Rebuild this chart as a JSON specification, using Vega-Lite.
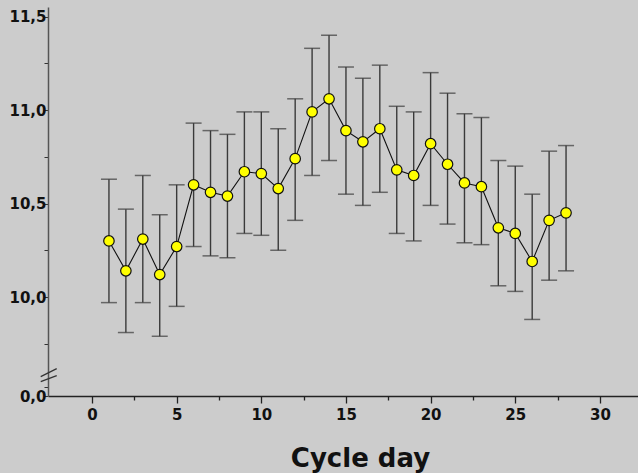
{
  "$schema": "https://vega.github.io/schema/vega-lite/v6.json",
  "width": 590,
  "height": 389,
  "autosize": {"type": "none"},
  "padding": {"left": 48, "top": 7, "right": 0, "bottom": 77},
  "background": "#cccccc",
  "config": {
    "view": {"stroke": null},
    "font": "DejaVu Sans",
    "axis": {"labelFont": "DejaVu Sans", "labelFontWeight": "bold", "labelFontSize": 15, "labelColor": "#111111", "grid": false, "titleFont": "DejaVu Sans"}
  },
  "datasets": {
    "cycle": [
      {"day": 1, "mean": 10.30, "lo": 9.97, "hi": 10.63},
      {"day": 2, "mean": 10.14, "lo": 9.81, "hi": 10.47},
      {"day": 3, "mean": 10.31, "lo": 9.97, "hi": 10.65},
      {"day": 4, "mean": 10.12, "lo": 9.79, "hi": 10.44},
      {"day": 5, "mean": 10.27, "lo": 9.95, "hi": 10.60},
      {"day": 6, "mean": 10.60, "lo": 10.27, "hi": 10.93},
      {"day": 7, "mean": 10.56, "lo": 10.22, "hi": 10.89},
      {"day": 8, "mean": 10.54, "lo": 10.21, "hi": 10.87},
      {"day": 9, "mean": 10.67, "lo": 10.34, "hi": 10.99},
      {"day": 10, "mean": 10.66, "lo": 10.33, "hi": 10.99},
      {"day": 11, "mean": 10.58, "lo": 10.25, "hi": 10.90},
      {"day": 12, "mean": 10.74, "lo": 10.41, "hi": 11.06},
      {"day": 13, "mean": 10.99, "lo": 10.65, "hi": 11.33},
      {"day": 14, "mean": 11.06, "lo": 10.73, "hi": 11.40},
      {"day": 15, "mean": 10.89, "lo": 10.55, "hi": 11.23},
      {"day": 16, "mean": 10.83, "lo": 10.49, "hi": 11.17},
      {"day": 17, "mean": 10.90, "lo": 10.56, "hi": 11.24},
      {"day": 18, "mean": 10.68, "lo": 10.34, "hi": 11.02},
      {"day": 19, "mean": 10.65, "lo": 10.30, "hi": 10.99},
      {"day": 20, "mean": 10.82, "lo": 10.49, "hi": 11.20},
      {"day": 21, "mean": 10.71, "lo": 10.39, "hi": 11.09},
      {"day": 22, "mean": 10.61, "lo": 10.29, "hi": 10.98},
      {"day": 23, "mean": 10.59, "lo": 10.28, "hi": 10.96},
      {"day": 24, "mean": 10.37, "lo": 10.06, "hi": 10.73},
      {"day": 25, "mean": 10.34, "lo": 10.03, "hi": 10.70},
      {"day": 26, "mean": 10.19, "lo": 9.88, "hi": 10.55},
      {"day": 27, "mean": 10.41, "lo": 10.09, "hi": 10.78},
      {"day": 28, "mean": 10.45, "lo": 10.14, "hi": 10.81}
    ],
    "axisBreak": [
      {"bx": -3.03, "by": 9.574, "bx2": -2.085, "by2": 9.617},
      {"bx": -3.03, "by": 9.547, "bx2": -2.085, "by2": 9.579}
    ]
  },
  "encoding": {
    "x": {
      "field": "day",
      "type": "quantitative",
      "scale": {"domain": [-2.6, 32.25], "nice": false, "zero": false},
      "axis": {
        "title": "Cycle day",
        "titleFontSize": 26,
        "titleFontWeight": "bold",
        "titleColor": "#111111",
        "titleX": 312,
        "titleY": 70,
        "titleAlign": "center",
        "titleBaseline": "alphabetic",
        "values": [2.5, 5, 7.5, 10, 12.5, 15, 17.5, 20, 22.5, 25, 27.5, 30, 0],
        "labelExpr": "datum.value % 5 === 0 ? datum.label : ''",
        "tickSize": {"condition": {"test": "datum.value % 5 === 0", "value": 7}, "value": 4},
        "tickColor": "#222222",
        "tickWidth": 1.3,
        "domainColor": "#222222",
        "domainWidth": 1.5,
        "labelPadding": 4,
        "labelFlush": false,
        "labelOverlap": false
      }
    }
  },
  "layer": [
    {
      "data": {"name": "cycle"},
      "mark": {"type": "rule", "color": "#3a3a3a", "strokeWidth": 1.4},
      "encoding": {
        "y": {
          "field": "lo",
          "type": "quantitative",
          "scale": {"domain": [9.4706, 11.551], "nice": false, "zero": false},
          "axis": {
            "title": null,
            "values": [9.4706, 9.52, 9.75, 10, 10.25, 10.5, 10.75, 11, 11.25, 11.5],
            "labelExpr": "datum.value < 9.5 ? '0,0' : ((datum.value >= 10 && abs(datum.value * 2 - round(datum.value * 2)) < 0.001) ? replace(format(datum.value, '.1f'), '.', ',') : '')",
            "tickSize": 4,
            "tickColor": "#333333",
            "domainColor": "#555555",
            "domainWidth": 1.5,
            "labelPadding": -2,
            "labelOverlap": false,
            "labelFlush": false
          }
        },
        "y2": {"field": "hi"}
      }
    },
    {
      "data": {"name": "cycle"},
      "mark": {"type": "tick", "orient": "horizontal", "size": 16, "thickness": 1.5, "color": "#3a3a3a"},
      "encoding": {"y": {"field": "hi", "type": "quantitative", "title": null}}
    },
    {
      "data": {"name": "cycle"},
      "mark": {"type": "tick", "orient": "horizontal", "size": 16, "thickness": 1.5, "color": "#3a3a3a"},
      "encoding": {"y": {"field": "lo", "type": "quantitative", "title": null}}
    },
    {
      "data": {"name": "cycle"},
      "mark": {"type": "line", "color": "#111111", "strokeWidth": 1.1},
      "encoding": {"y": {"field": "mean", "type": "quantitative", "title": null}}
    },
    {
      "data": {"name": "cycle"},
      "mark": {"type": "point", "shape": "circle", "filled": true, "fill": "#ffff00", "stroke": "#111111", "strokeWidth": 1.2, "size": 110, "opacity": 1},
      "encoding": {"y": {"field": "mean", "type": "quantitative", "title": null}}
    },
    {
      "data": {"name": "axisBreak"},
      "mark": {"type": "rule", "color": "#333333", "strokeWidth": 1.3},
      "encoding": {
        "x": {"field": "bx", "type": "quantitative", "title": null},
        "x2": {"field": "bx2"},
        "y": {"field": "by", "type": "quantitative", "title": null},
        "y2": {"field": "by2"}
      }
    }
  ]
}
